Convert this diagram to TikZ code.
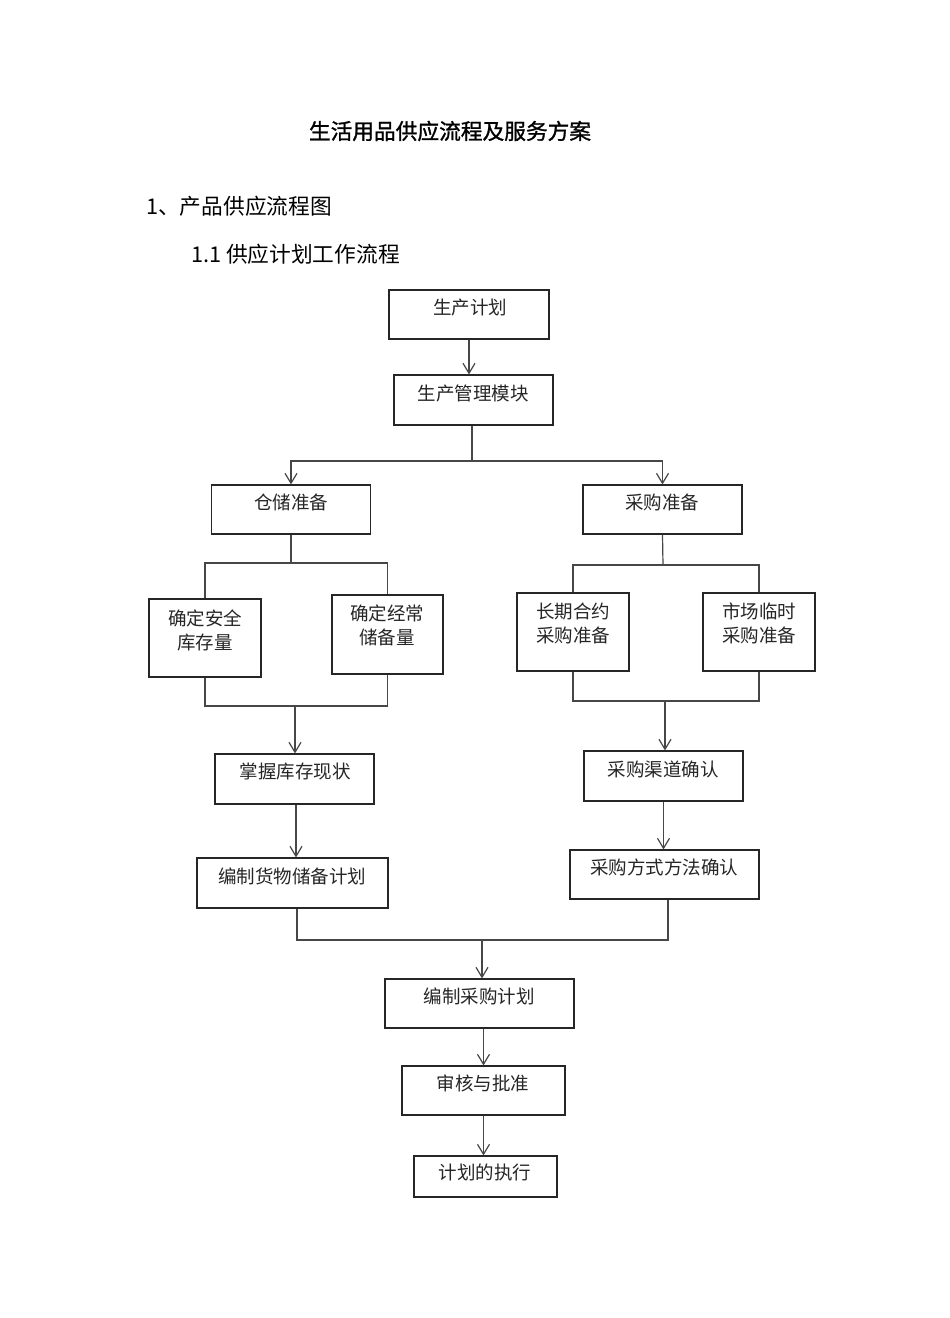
\documentclass[tikz,border=0pt]{standalone}
\usepackage{fontspec}
\setmainfont{Noto Sans CJK SC}
\newfontfamily\titlefont{Noto Sans CJK SC}[FakeBold=1.2]
\usetikzlibrary{arrows.meta}
\begin{document}
\begin{tikzpicture}[x=1pt,y=-1pt,
  box/.style={draw=black!85, line width=1.1pt, fill=none, inner sep=0pt},
  txt/.style={font=\fontsize{18.5}{24}\selectfont, text=black!85, inner sep=0pt, align=center},
  head/.style={font=\fontsize{21.7}{26}\selectfont, text=black, inner sep=0pt},
  ln/.style={draw=black!72, line width=1.2pt},
  arr/.style={ln, -{Straight Barb[length=10pt,width=12pt,line width=1.2pt]}}]
\useasboundingbox (0,0) rectangle (950,1318);
\fill[white] (0,0) rectangle (950,1318);

% headings
\node[head, font=\titlefont\fontsize{21.7}{26}\selectfont] (title) at (450,131) {生活用品供应流程及服务方案};
\node[head, anchor=west] (h1) at (146,206) {1、产品供应流程图};
\node[head, anchor=west] (h2) at (191,254) {1.1 供应计划工作流程};

% boxes
\node[box, minimum width=160pt, minimum height=49pt] (b1) at (469,314.5) {};
\node[txt] (t1) at (470,308) {生产计划};
\node[box, minimum width=159pt, minimum height=50pt] (b2) at (473.5,400) {};
\node[txt] (t2) at (473,393) {生产管理模块};

\node[box, minimum width=159pt, minimum height=49pt] (b3) at (291,509.5) {};
\node[txt] (t3) at (291,502) {仓储准备};
\node[box, minimum width=159pt, minimum height=49pt] (b4) at (662.5,509.5) {};
\node[txt] (t4) at (662,502) {采购准备};

\node[box, minimum width=112pt, minimum height=78pt] (b5) at (205,638) {};
\node[txt] (t5) at (205,630) {确定安全\\库存量};
\node[box, minimum width=111pt, minimum height=79pt] (b6) at (387.5,634.5) {};
\node[txt] (t6) at (387,625) {确定经常\\储备量};

\node[box, minimum width=112pt, minimum height=78pt] (b9) at (573,632) {};
\node[txt] (t9) at (573,623) {长期合约\\采购准备};
\node[box, minimum width=112pt, minimum height=78pt] (b10) at (759,632) {};
\node[txt] (t10) at (759,623) {市场临时\\采购准备};

\node[box, minimum width=159pt, minimum height=50pt] (b7) at (294.5,779) {};
\node[txt] (t7) at (295,771) {掌握库存现状};
\node[box, minimum width=191pt, minimum height=50pt] (b8) at (292.5,883) {};
\node[txt] (t8) at (292,876) {编制货物储备计划};

\node[box, minimum width=159pt, minimum height=50pt] (b11) at (663.5,776) {};
\node[txt] (t11) at (663,769) {采购渠道确认};
\node[box, minimum width=189pt, minimum height=49pt] (b12) at (664.5,874.5) {};
\node[txt] (t12) at (664,867) {采购方式方法确认};

\node[box, minimum width=189pt, minimum height=49pt] (b13) at (479.5,1003.5) {};
\node[txt] (t13) at (479,996) {编制采购计划};
\node[box, minimum width=163pt, minimum height=49pt] (b14) at (483.5,1090.5) {};
\node[txt] (t14) at (483,1083) {审核与批准};
\node[box, minimum width=143pt, minimum height=41pt] (b15) at (485.5,1176.5) {};
\node[txt] (t15) at (485,1172) {计划的执行};

% junctions
\coordinate (j1) at (472,461);
\coordinate (j2) at (291,563);
\coordinate (j3) at (295,706);
\coordinate (j4) at (663,565);
\coordinate (j5) at (665,701);
\coordinate (j6) at (482,940);
\coordinate (x8) at (297,0);
\coordinate (x12) at (668,0);
\coordinate (x7) at (296,0);

% connectors
\draw[arr] (b1.south) -- (b1.south |- b2.north);
\draw[ln] (b2.south -| j1) -- (j1);
\draw[arr] (j1) -| (b3.north);
\draw[arr] (j1) -| (b4.north);

\draw[ln] (b3.south) -- (j2);
\draw[ln] (j2) -| (b5.north);
\draw[ln] (j2) -| (b6.north);
\draw[ln] (b5.south) |- (j3);
\draw[ln] (b6.south) |- (j3);
\draw[arr] (j3) -- (j3 |- b7.north);
\draw[arr] (b7.south -| x7) -- (b8.north -| x7);

\draw[ln] (b4.south) -- (j4);
\draw[ln] (j4) -| (b9.north);
\draw[ln] (j4) -| (b10.north);
\draw[ln] (b9.south) |- (j5);
\draw[ln] (b10.south) |- (j5);
\draw[arr] (j5) -- (j5 |- b11.north);
\draw[arr] (b11.south) -- (b11.south |- b12.north);

\draw[ln] (b8.south -| x8) |- (j6);
\draw[ln] (b12.south -| x12) |- (j6);
\draw[arr] (j6) -- (j6 |- b13.north);
\draw[arr] (b14.north |- b13.south) -- (b14.north);
\draw[arr] (b14.south) -- (b14.south |- b15.north);
\end{tikzpicture}
\end{document}
